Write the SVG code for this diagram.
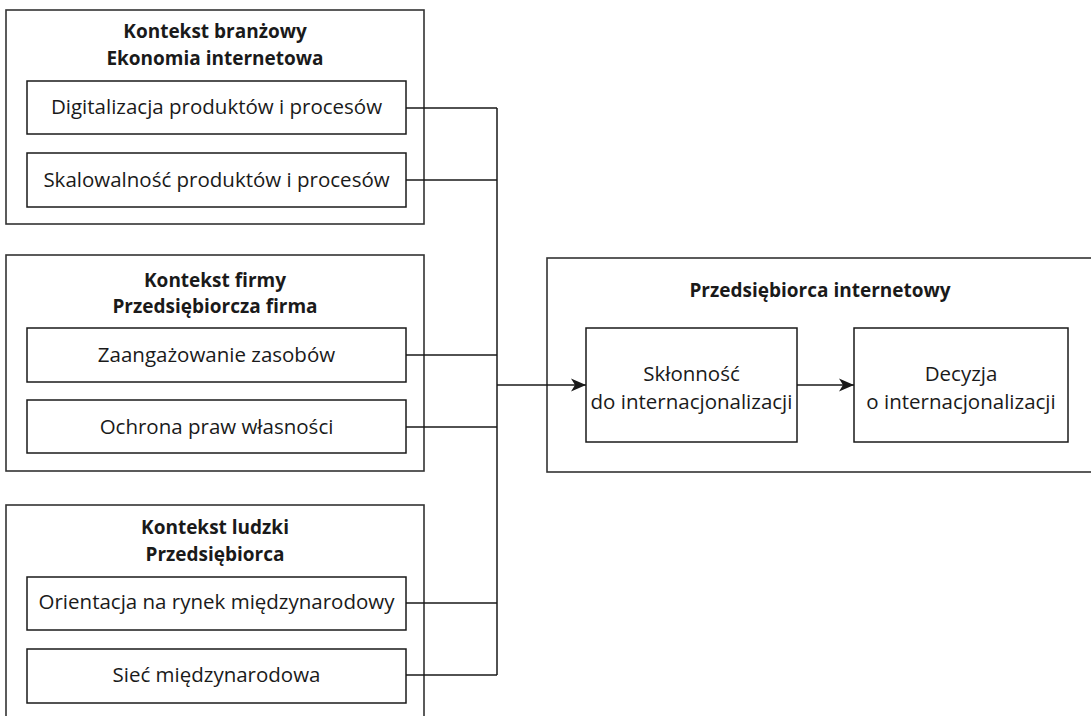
<svg xmlns="http://www.w3.org/2000/svg" width="1091" height="716" viewBox="0 0 1091 716">
<defs>
<style>
.outer{fill:#fff;stroke:#333;stroke-width:1.6}
.inner{fill:#fff;stroke:#1a1a1a;stroke-width:1.5}
.t{font-family:"Open Sans","Liberation Sans",sans-serif;font-size:20.5px;fill:#1a1a1a;text-anchor:middle}
.h{font-family:"Open Sans","Liberation Sans",sans-serif;font-size:19px;font-weight:bold;fill:#1a1a1a;text-anchor:middle}
.c{fill:none;stroke:#1a1a1a;stroke-width:1.5}
</style>
<marker id="arr" markerWidth="16" markerHeight="14" refX="15" refY="7" orient="auto" markerUnits="userSpaceOnUse">
<path d="M0,0.5 L15,7 L0,13.5 L4,7 z" fill="#1a1a1a"/>
</marker>
</defs>
<rect width="1091" height="716" fill="#fff"/>

<g id="ctx-branzowy">
<rect class="outer" x="6" y="10" width="418" height="214"/>
<text class="h" x="215" y="38">Kontekst branżowy</text>
<text class="h" x="215" y="65">Ekonomia internetowa</text>
</g>
<g id="digitalizacja">
<rect class="inner" x="27" y="81" width="379" height="53"/>
<text class="t" x="216.5" y="114">Digitalizacja produktów i procesów</text>
</g>
<g id="skalowalnosc">
<rect class="inner" x="27" y="153" width="379" height="54"/>
<text class="t" x="216.5" y="187">Skalowalność produktów i procesów</text>
</g>

<g id="ctx-firmy">
<rect class="outer" x="6" y="255" width="418" height="216"/>
<text class="h" x="215" y="287">Kontekst firmy</text>
<text class="h" x="215" y="313">Przedsiębiorcza firma</text>
</g>
<g id="zaangazowanie">
<rect class="inner" x="27" y="328" width="379" height="54"/>
<text class="t" x="216.5" y="362">Zaangażowanie zasobów</text>
</g>
<g id="ochrona">
<rect class="inner" x="27" y="400" width="379" height="53"/>
<text class="t" x="216.5" y="434">Ochrona praw własności</text>
</g>

<g id="ctx-ludzki">
<rect class="outer" x="6" y="505" width="418" height="230"/>
<text class="h" x="215" y="534">Kontekst ludzki</text>
<text class="h" x="215" y="561">Przedsiębiorca</text>
</g>
<g id="orientacja">
<rect class="inner" x="27" y="577" width="379" height="53"/>
<text class="t" x="216.5" y="609">Orientacja na rynek międzynarodowy</text>
</g>
<g id="siec">
<rect class="inner" x="27" y="649" width="379" height="54"/>
<text class="t" x="216.5" y="682">Sieć międzynarodowa</text>
</g>

<g id="przedsiebiorca-internetowy">
<rect class="outer" x="547" y="258" width="550" height="214"/>
<text class="h" x="820" y="297">Przedsiębiorca internetowy</text>
</g>
<g id="sklonnosc">
<rect class="inner" x="586" y="328" width="211" height="114"/>
<text class="t" x="691.5" y="381">Skłonność</text>
<text class="t" x="691.5" y="409">do internacjonalizacji</text>
</g>
<g id="decyzja">
<rect class="inner" x="854" y="328" width="214" height="114"/>
<text class="t" x="961" y="381">Decyzja</text>
<text class="t" x="961" y="409">o internacjonalizacji</text>
</g>

<g id="connectors">
<path class="c" d="M406,108 H497 M406,180 H497 M406,355 H497 M406,427 H497 M406,603 H497 M406,675 H497 M497,108 V675"/>
<path class="c" d="M497,385 H586" marker-end="url(#arr)"/>
<path class="c" d="M797,385 H854" marker-end="url(#arr)"/>
</g>
</svg>
